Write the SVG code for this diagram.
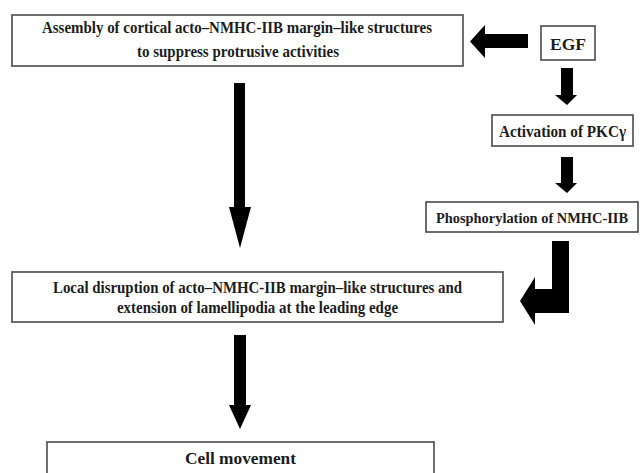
<svg xmlns="http://www.w3.org/2000/svg" width="642" height="473" viewBox="0 0 642 473">
<style>
.box{fill:#fff;stroke:#4a4a4a;stroke-width:1.6}
.t{font-family:"Liberation Serif","Times New Roman",serif;font-weight:bold;font-size:16px;fill:#1c1c1c}
.s{font-size:14.5px}
.arr{fill:#000}
</style>
<rect width="642" height="473" fill="#fff"/>
<g id="connectors">
<path class="arr" d="M528,34 L485,34 L485,25 L470,41.5 L485,58 L485,48 L528,48 Z"/>
<path class="arr" d="M561,68 L573,68 L573,95 L577,95 L567,105 L555,95 L561,95 Z"/>
<path class="arr" d="M561,157 L573,157 L573,183 L577,183 L567,193 L555,183 L561,183 Z"/>
<path class="arr" d="M552,241 L569,241 L569,313 L535,313 L535,325 L520,301 L535,277 L535,289 L552,289 Z"/>
<path class="arr" d="M234,83 L245,83 L245,207 L251,207 L240,248 L229,207 L234,207 Z"/>
<path class="arr" d="M234,335 L246,335 L246,405 L251,405 L240,429 L229,405 L234,405 Z"/>
</g>
<g id="assembly">
<rect class="box" x="12" y="15" width="451" height="51"/>
<text class="t" x="42" y="33" textLength="390" lengthAdjust="spacingAndGlyphs">Assembly of cortical acto–NMHC-IIB margin–like structures</text>
<text class="t" x="137" y="57" textLength="202" lengthAdjust="spacingAndGlyphs">to suppress protrusive activities</text>
</g>
<g id="egf">
<rect class="box" x="541" y="26" width="54" height="34"/>
<text class="t" x="550" y="50" textLength="36" lengthAdjust="spacingAndGlyphs">EGF</text>
</g>
<g id="pkc">
<rect class="box" x="492" y="115" width="141" height="31"/>
<text class="t" x="499" y="137" textLength="127" lengthAdjust="spacingAndGlyphs">Activation of PKCγ</text>
</g>
<g id="phospho">
<rect class="box" x="426" y="202" width="212" height="30"/>
<text class="t s" x="532" y="223" text-anchor="middle" textLength="192" lengthAdjust="spacingAndGlyphs">Phosphorylation of NMHC-IIB</text>
</g>
<g id="disruption">
<rect class="box" x="12" y="272" width="491" height="50"/>
<text class="t" x="53" y="293" textLength="409" lengthAdjust="spacingAndGlyphs">Local disruption of acto–NMHC-IIB margin–like structures and</text>
<text class="t" x="117" y="313" textLength="281" lengthAdjust="spacingAndGlyphs">extension of lamellipodia at the leading edge</text>
</g>
<g id="movement">
<rect class="box" x="47" y="442" width="387" height="45"/>
<text class="t" x="185" y="464" textLength="111" lengthAdjust="spacingAndGlyphs">Cell movement</text>
</g>
</svg>
